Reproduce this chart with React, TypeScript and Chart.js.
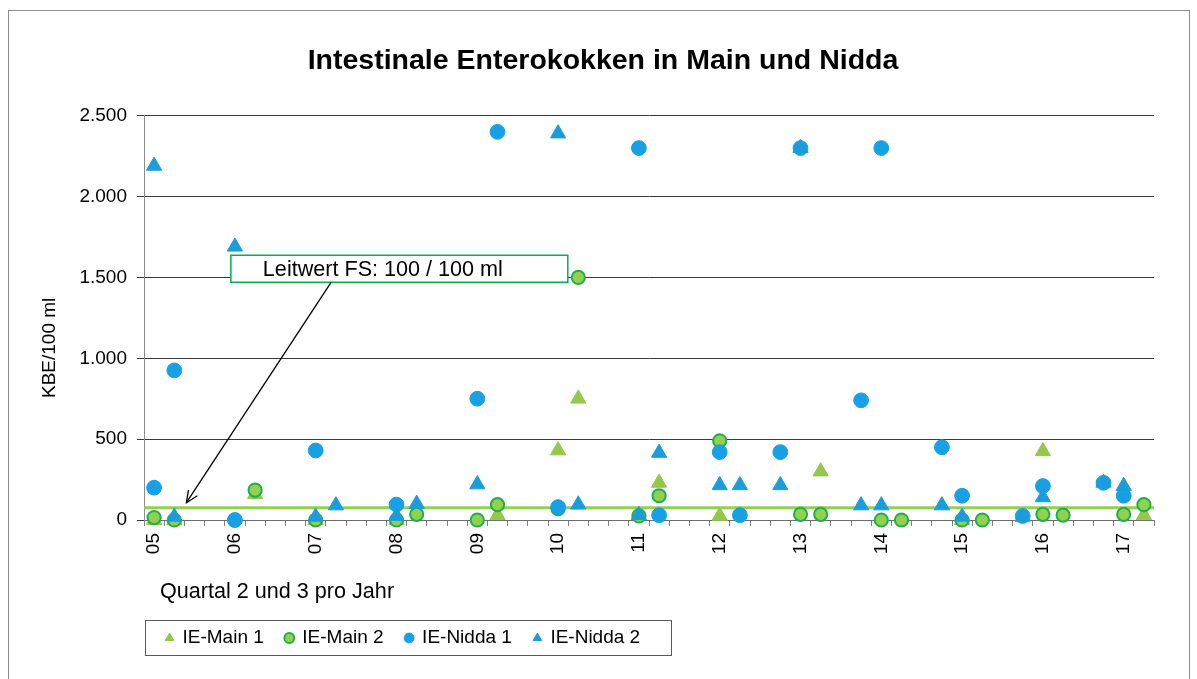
import React, { useEffect, useRef } from 'react';
import { Chart, registerables } from 'chart.js';

Chart.register(...registerables);

const FONT = "'Liberation Sans', Arial, Helvetica, sans-serif";

const TITLE = 'Intestinale Enterokokken in Main und Nidda';
const Y_TITLE = 'KBE/100 ml';
const X_TITLE = 'Quartal 2 und 3 pro Jahr';
const NOTE_TEXT = 'Leitwert FS: 100 / 100 ml';

const seriesNames = ['IE-Main 1', 'IE-Main 2', 'IE-Nidda 1', 'IE-Nidda 2'];

// year labels on the x axis (quarterly axis, label at quarter 2)
const yearLabels = ['05', '06', '07', '08', '09', '10', '11', '12', '13', '14', '15', '16', '17'];

const yTickValues = [0, 500, 1000, 1500, 2000, 2500];
const yTickLabels = ['0', '500', '1.000', '1.500', '2.000', '2.500'];

// guide value line as drawn in the picture
const guideValue = 75;

// IE-Main 1
const main1Quarters = ['05Q2', '05Q3', '06Q3', '07Q2', '08Q2', '09Q3', '10Q2', '10Q3', '11Q3', '12Q2', '13Q3', '15Q2', '16Q2', '17Q3'];
const main1Values = [0, 0, 160, 0, 0, 30, 430, 750, 230, 25, 300, 0, 425, 30];

// IE-Main 2
const main2Quarters = ['05Q2', '05Q3', '06Q2', '06Q3', '07Q2', '08Q2', '08Q3', '09Q2', '09Q3', '10Q2', '10Q3', '11Q2', '11Q3', '12Q2', '13Q2', '13Q3', '14Q2', '14Q3', '15Q2', '15Q3', '16Q2', '16Q3', '17Q2', '17Q3'];
const main2Values = [15, 0, 0, 185, 0, 0, 35, 0, 95, 70, 1500, 25, 150, 490, 35, 35, 0, 0, 0, 0, 35, 30, 35, 95];

// IE-Nidda 1
const nidda1Quarters = ['05Q2', '05Q3', '06Q2', '07Q2', '08Q2', '09Q2', '09Q3', '10Q2', '11Q2', '11Q3', '12Q2', '12Q3', '13Q1', '13Q2', '14Q1', '14Q2', '15Q1', '15Q2', '16Q1', '16Q2', '17Q1', '17Q2'];
const nidda1Values = [200, 925, 0, 430, 95, 750, 2400, 80, 2300, 30, 420, 30, 420, 2300, 740, 2300, 450, 150, 25, 210, 230, 150];

// IE-Nidda 2
const nidda2Quarters = ['05Q2', '05Q3', '06Q2', '07Q2', '07Q3', '08Q2', '08Q3', '09Q2', '10Q2', '10Q3', '11Q2', '11Q3', '12Q2', '12Q3', '13Q1', '13Q2', '14Q1', '14Q2', '15Q1', '15Q2', '16Q1', '16Q2', '17Q1', '17Q2'];
const nidda2Values = [2190, 20, 1690, 20, 90, 25, 100, 220, 2390, 95, 30, 415, 215, 215, 215, 2300, 90, 90, 90, 20, 20, 140, 230, 210];

// annotation placement in data units
const noteBox = { x0: 5.95, x1: 10.12, yTop: 1637, yBottom: 1470 };
const arrowFrom = { x: 7.19, y: 1470 };
const arrowTo = { x: 5.4, y: 107 };

const X_MIN = 4.875;
const X_MAX = 17.375;

const quarterPos = (key: string) => Number(key.slice(0, 2)) + (Number(key[3]) - 2) * 0.25;
const toPoints = (quarters: string[], values: number[]) =>
  quarters.map((q, i) => ({ x: quarterPos(q), y: values[i] }));

const xTickValues: number[] = [];
yearLabels.forEach((lab, i) => {
  const yr = Number(lab);
  const steps = i === yearLabels.length - 1 ? [0, 0.25] : [0, 0.25, 0.5, 0.75];
  steps.forEach((s) => xTickValues.push(yr + s));
});

const extrasPlugin = {
  id: 'extras',
  afterDatasetsDraw(chart: any) {
    const { ctx, scales } = chart;
    const x = scales.x;
    const y = scales.y;
    const l = x.getPixelForValue(noteBox.x0);
    const r = x.getPixelForValue(noteBox.x1);
    const t = y.getPixelForValue(noteBox.yTop);
    const b = y.getPixelForValue(noteBox.yBottom);
    ctx.save();
    ctx.fillStyle = '#ffffff';
    ctx.fillRect(l, t, r - l, b - t);
    ctx.strokeStyle = '#00B050';
    ctx.lineWidth = 1.5;
    ctx.strokeRect(l, t, r - l, b - t);
    ctx.fillStyle = '#000';
    ctx.font = `21.6px ${FONT}`;
    ctx.textAlign = 'left';
    ctx.textBaseline = 'middle';
    ctx.fillText(NOTE_TEXT, l + 32, (t + b) / 2 + 1);

    const ax0 = x.getPixelForValue(arrowFrom.x);
    const ay0 = y.getPixelForValue(arrowFrom.y);
    const ax1 = x.getPixelForValue(arrowTo.x);
    const ay1 = y.getPixelForValue(arrowTo.y);
    ctx.strokeStyle = '#000';
    ctx.lineWidth = 1.3;
    ctx.beginPath();
    ctx.moveTo(ax0, ay0);
    ctx.lineTo(ax1, ay1);
    ctx.stroke();
    const ang = Math.atan2(ay1 - ay0, ax1 - ax0);
    const head = 13;
    ctx.beginPath();
    ctx.moveTo(ax1 - head * Math.cos(ang - 0.42), ay1 - head * Math.sin(ang - 0.42));
    ctx.lineTo(ax1, ay1);
    ctx.lineTo(ax1 - head * Math.cos(ang + 0.42), ay1 - head * Math.sin(ang + 0.42));
    ctx.stroke();
    ctx.restore();
  },
  afterDraw(chart: any) {
    const { ctx, chartArea } = chart;
    ctx.save();
    // y axis title
    ctx.fillStyle = '#000';
    ctx.font = `19px ${FONT}`;
    ctx.textAlign = 'center';
    ctx.textBaseline = 'middle';
    ctx.translate(chartArea.left - 94, (chartArea.top + chartArea.bottom) / 2 + 30);
    ctx.rotate(-Math.PI / 2);
    ctx.fillText(Y_TITLE, 0, 0);
    ctx.restore();

    ctx.save();
    ctx.fillStyle = '#000';
    ctx.font = `21.6px ${FONT}`;
    ctx.textAlign = 'left';
    ctx.textBaseline = 'middle';
    ctx.fillText(X_TITLE, chartArea.left + 16, chartArea.bottom + 72);
    ctx.restore();

    // legend frame
    const legend = chart.legend;
    if (legend && legend.legendHitBoxes && legend.legendHitBoxes.length) {
      const hb = legend.legendHitBoxes;
      const last = hb[hb.length - 1];
      const top = hb[0].top - 9;
      const bottom = hb[0].top + 26;
      const left = legend.left + 1;
      const right = last.left + last.width + 31;
      ctx.save();
      ctx.strokeStyle = '#595959';
      ctx.lineWidth = 1;
      ctx.strokeRect(Math.round(left) + 0.5, Math.round(top) + 0.5, Math.round(right - left), Math.round(bottom - top));
      ctx.restore();
    }
  },
};

export default function App() {
  const canvasRef = useRef<HTMLCanvasElement | null>(null);

  useEffect(() => {
    document.documentElement.style.overflow = 'hidden';
    const canvas = canvasRef.current;
    if (!canvas) return;
    Chart.defaults.font.family = FONT;
    Chart.defaults.color = '#000';

    const chart = new Chart(canvas, {
      type: 'scatter',
      data: {
        datasets: [
          {
            label: seriesNames[0],
            data: toPoints(main1Quarters, main1Values),
            pointStyle: 'triangle',
            pointRadius: 8.8,
            pointHoverRadius: 8.8,
            backgroundColor: '#93C849',
            borderColor: '#93C849',
            borderWidth: 1,
            order: 3,
            clip: false,
          },
          {
            label: seriesNames[1],
            data: toPoints(main2Quarters, main2Values),
            pointStyle: 'circle',
            pointRadius: 6.6,
            pointHoverRadius: 6.6,
            backgroundColor: '#92D050',
            borderColor: '#1FAF4B',
            borderWidth: 2,
            order: 2,
            clip: false,
          },
          {
            label: seriesNames[2],
            data: toPoints(nidda1Quarters, nidda1Values),
            pointStyle: 'circle',
            pointRadius: 7.4,
            pointHoverRadius: 7.4,
            backgroundColor: '#17A0E3',
            borderColor: '#17A0E3',
            borderWidth: 1,
            order: 1,
            clip: false,
          },
          {
            label: seriesNames[3],
            data: toPoints(nidda2Quarters, nidda2Values),
            pointStyle: 'triangle',
            pointRadius: 8.8,
            pointHoverRadius: 8.8,
            backgroundColor: '#1B9DDB',
            borderColor: '#1B9DDB',
            borderWidth: 1,
            order: 0,
            clip: false,
          },
          {
            label: 'Leitwert',
            data: [
              { x: X_MIN, y: guideValue },
              { x: X_MAX, y: guideValue },
            ],
            showLine: true,
            borderColor: '#92D050',
            backgroundColor: '#92D050',
            borderWidth: 3,
            pointRadius: 0,
            pointHoverRadius: 0,
            order: 4,
          } as any,
        ],
      },
      options: {
        responsive: false,
        animation: false,
        events: [],
        layout: { padding: { top: 0, left: 43, right: 35, bottom: 21.5 } },
        plugins: {
          title: {
            display: true,
            text: TITLE,
            color: '#000',
            font: { size: 28.5, weight: 'bold', family: FONT },
            padding: { top: 33.5, bottom: 37 },
          },
          legend: {
            position: 'bottom',
            align: 'start',
            fullSize: false,
            labels: {
              usePointStyle: true,
              boxWidth: 7,
              boxHeight: 7,
              padding: 22,
              color: '#000',
              font: { size: 19, family: FONT },
              filter: (item: any) => item.datasetIndex < 4,
              sort: (a: any, b: any) => a.datasetIndex - b.datasetIndex,
            },
          },
          tooltip: { enabled: false },
        },
        scales: {
          x: {
            type: 'linear',
            min: X_MIN,
            max: X_MAX,
            afterBuildTicks: (s: any) => {
              s.ticks = xTickValues.map((v) => ({ value: v }));
            },
            afterFit: (s: any) => {
              s.height = 86.5;
            },
            ticks: {
              autoSkip: false,
              minRotation: 90,
              maxRotation: 90,
              padding: 7,
              color: '#000',
              font: { size: 19, family: FONT },
              callback: (v: any) => {
                const idx = yearLabels.findIndex((l) => Number(l) === Number(v));
                return idx >= 0 ? yearLabels[idx] : '';
              },
            },
            grid: {
              display: true,
              drawOnChartArea: false,
              drawTicks: true,
              tickLength: 6,
              offset: true,
              color: '#7f7f7f',
            },
            border: { display: true, color: '#6f6f6f', width: 1 },
          },
          y: {
            type: 'linear',
            min: 0,
            max: 2500,
            afterBuildTicks: (s: any) => {
              s.ticks = yTickValues.map((v) => ({ value: v }));
            },
            afterFit: (s: any) => {
              s.width = 92;
            },
            ticks: {
              padding: 10,
              color: '#000',
              font: { size: 19, family: FONT },
              callback: (_v: any, i: number) => yTickLabels[i],
            },
            grid: { color: '#3a3a3a', drawTicks: true, tickLength: 7 },
            border: { display: true, color: '#8c8c8c', width: 1 },
          },
        },
      } as any,
      plugins: [extrasPlugin],
    });

    return () => {
      chart.destroy();
    };
  }, []);

  return (
    <div
      style={{
        position: 'absolute',
        left: 8,
        top: 10,
        width: 1182,
        height: 670,
        border: '1px solid #8c8c8c',
        boxSizing: 'border-box',
        background: '#fff',
      }}
    >
      <canvas ref={canvasRef} width={1180} height={668} style={{ display: 'block' }} />
    </div>
  );
}
